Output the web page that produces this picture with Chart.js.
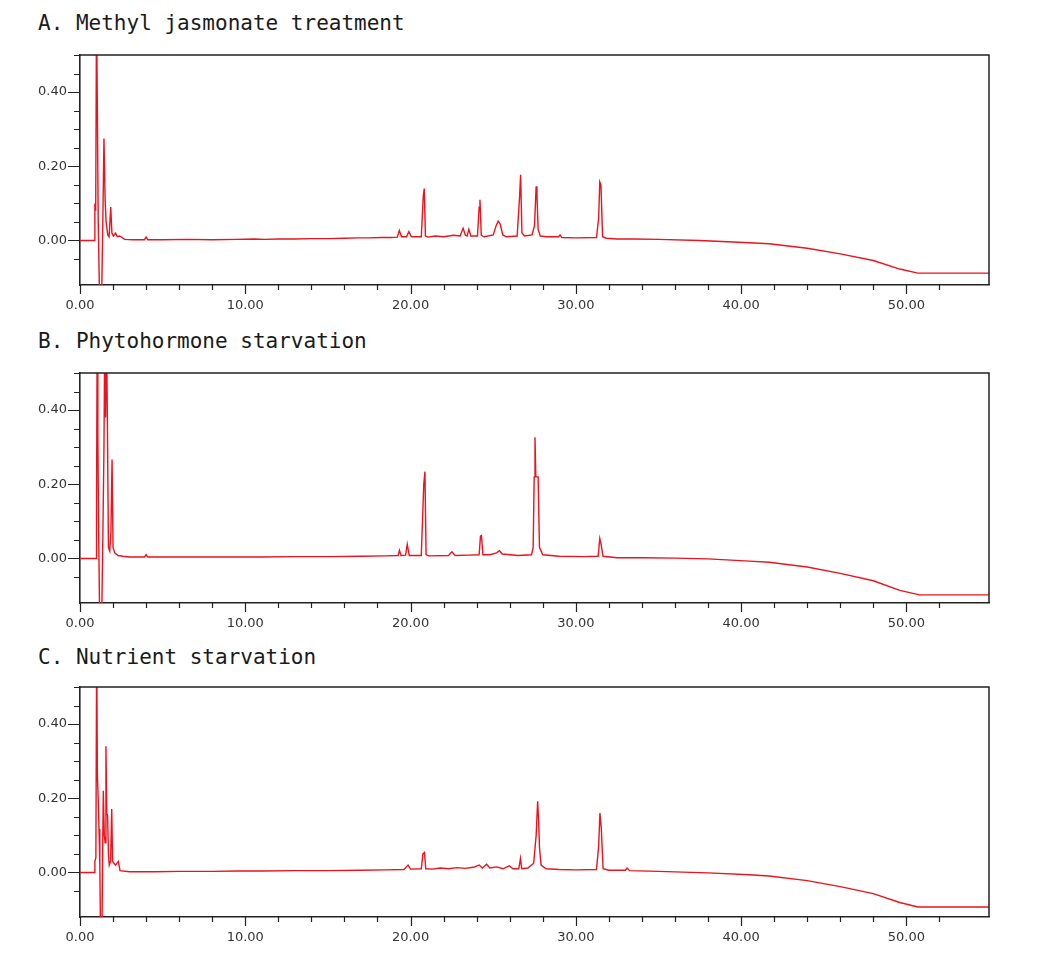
<!DOCTYPE html>
<html><head><meta charset="utf-8">
<script src="https://cdn.jsdelivr.net/npm/chart.js@4/dist/chart.umd.min.js"></script>
<style>
body{margin:0;background:#fff;width:1062px;height:966px;position:relative;overflow:hidden}
.title{position:absolute;left:38px;font-family:"DejaVu Sans Mono",monospace;font-size:21px;line-height:24px;color:#1a1a1a;white-space:pre}
.panel{position:absolute;left:0;width:1062px;height:300px}
</style></head><body>
<div class="title" id="tA" style="top:11px"></div>
<div class="title" id="tB" style="top:329px"></div>
<div class="title" id="tC" style="top:645px"></div>
<div class="panel" style="top:40px"><canvas id="cA" width="1062" height="300"></canvas></div>
<div class="panel" style="top:358px"><canvas id="cB" width="1062" height="300"></canvas></div>
<div class="panel" style="top:672px"><canvas id="cC" width="1062" height="300"></canvas></div>
<script>
const panelTitles = ["A. Methyl jasmonate treatment", "B. Phytohormone starvation", "C. Nutrient starvation"];

// Retention time (min) and absorbance (AU)
const timeA = [0,0.85,0.9,0.95,1.0,1.05,1.1,1.2,1.3,1.38,1.45,1.52,1.58,1.68,1.76,1.86,1.93,2.02,2.15,2.25,2.4,2.7,3.2,3.9,4.0,4.1,5.0,6.5,8.0,9.5,10.5,11.2,12.0,13.0,14.0,15.0,16.0,16.8,17.5,18.2,18.8,19.2,19.32,19.45,19.75,19.9,20.05,20.65,20.77,20.83,20.9,21.05,21.5,22.0,22.6,23.0,23.18,23.32,23.42,23.53,23.65,24.05,24.15,24.2,24.28,24.45,25.0,25.18,25.3,25.42,25.58,25.8,26.45,26.6,26.66,26.74,26.9,27.35,27.5,27.6,27.65,27.72,27.85,28.2,28.95,29.05,29.15,30.0,31.25,31.38,31.45,31.52,31.62,31.85,32.5,33.5,35,37.5,40.5,41.7,44,46,48,49.6,50.7,55];
const signalA = [0,0,0.10,0.08,0.62,0.36,0.06,-0.2,-0.18,0.05,0.275,0.11,0.05,0.015,0.01,0.09,0.02,0.012,0.02,0.01,0.012,0.003,0.002,0.002,0.009,0.002,0.002,0.003,0.002,0.003,0.004,0.003,0.004,0.004,0.005,0.005,0.006,0.007,0.007,0.008,0.008,0.009,0.027,0.01,0.01,0.024,0.01,0.01,0.12,0.14,0.012,0.009,0.012,0.01,0.014,0.012,0.033,0.014,0.012,0.03,0.012,0.012,0.09,0.11,0.014,0.01,0.015,0.04,0.052,0.045,0.015,0.01,0.012,0.12,0.177,0.02,0.012,0.015,0.04,0.146,0.12,0.03,0.012,0.01,0.01,0.015,0.008,0.007,0.008,0.06,0.158,0.15,0.01,0.006,0.004,0.004,0.003,0.0,-0.006,-0.009,-0.021,-0.036,-0.054,-0.077,-0.088,-0.088];

const timeB = [0,0.9,0.97,1.0,1.04,1.08,1.12,1.2,1.3,1.38,1.45,1.5,1.55,1.6,1.65,1.72,1.8,1.87,1.94,2.0,2.1,2.3,2.6,3.0,3.9,4.0,4.1,5.5,7,9,11,13,15,17,18.5,19.25,19.33,19.42,19.7,19.8,19.92,20.65,20.8,20.87,20.94,21.1,22.3,22.5,22.7,23.5,24.15,24.23,24.29,24.38,24.8,25.2,25.38,25.55,26.5,27.32,27.42,27.48,27.53,27.58,27.72,27.8,28.0,29,30.5,31.35,31.45,31.52,31.65,32.5,34,36,38,40.5,41.7,44,46,48,49.6,50.8,55];
const signalB = [0,0,0.0,0.14,0.62,0.34,0.1,-0.2,-0.2,0.05,0.3,0.62,0.38,0.62,0.41,0.03,0.02,0.07,0.267,0.03,0.015,0.008,0.006,0.004,0.004,0.01,0.004,0.004,0.004,0.004,0.004,0.005,0.005,0.006,0.007,0.008,0.022,0.008,0.009,0.038,0.008,0.008,0.2,0.234,0.01,0.007,0.008,0.018,0.008,0.009,0.01,0.06,0.062,0.01,0.01,0.015,0.021,0.012,0.008,0.01,0.03,0.22,0.327,0.22,0.22,0.03,0.01,0.006,0.005,0.006,0.054,0.04,0.006,0.002,0.002,0.001,-0.001,-0.007,-0.01,-0.023,-0.04,-0.06,-0.086,-0.098,-0.098];

const timeC = [0,0.85,0.9,0.96,1.01,1.05,1.1,1.15,1.2,1.25,1.32,1.37,1.41,1.47,1.52,1.57,1.62,1.67,1.72,1.77,1.85,1.92,1.97,2.02,2.15,2.32,2.42,3,4.5,6,8,9.5,11,13,15,17,18.5,19.6,19.85,20.0,20.65,20.75,20.84,20.92,21.3,21.8,22.3,22.8,23.3,23.8,24.15,24.35,24.6,24.8,25.2,25.6,25.97,26.2,26.55,26.65,26.73,27.1,27.45,27.6,27.69,27.75,27.8,27.9,28.2,29,30,31.25,31.38,31.46,31.54,31.65,32,33.0,33.1,33.25,35,38,40.5,41.7,44,46,48,49.6,50.7,55];
const signalC = [0,0,0.03,0.04,0.62,0.266,0.2,0.117,0.02,-0.2,-0.2,0.05,0.22,0.10,0.08,0.34,0.16,0.153,0.05,0.02,0.03,0.171,0.03,0.027,0.02,0.03,0.005,0.002,0.002,0.003,0.003,0.004,0.004,0.005,0.005,0.006,0.007,0.008,0.02,0.009,0.01,0.05,0.054,0.01,0.009,0.012,0.01,0.013,0.011,0.014,0.02,0.012,0.022,0.012,0.015,0.01,0.018,0.01,0.01,0.038,0.01,0.012,0.025,0.1,0.192,0.14,0.068,0.02,0.01,0.008,0.007,0.008,0.07,0.16,0.12,0.01,0.006,0.006,0.012,0.005,0.003,-0.001,-0.006,-0.0095,-0.022,-0.038,-0.057,-0.081,-0.093,-0.093];

const xRange = [0, 55];
const yRange = [-0.12, 0.5];
const xStep = 2, xLabelEvery = 10;
const yStep = 0.05, yLabelEvery = 0.2;

document.getElementById('tA').textContent = panelTitles[0];
document.getElementById('tB').textContent = panelTitles[1];
document.getElementById('tC').textContent = panelTitles[2];

const isMult = (v, s) => Math.abs(v / s - Math.round(v / s)) < 1e-6;

const framePlugin = {
  id: 'frame',
  afterDraw(chart) {
    const ctx = chart.ctx, a = chart.chartArea;
    const xs = chart.scales.x, ys = chart.scales.y;
    ctx.save();
    ctx.strokeStyle = '#222';
    ctx.lineWidth = 1.5;
    ctx.beginPath();
    ctx.moveTo(a.left, a.top); ctx.lineTo(a.right, a.top); ctx.lineTo(a.right, a.bottom);
    ctx.stroke();
    ctx.lineWidth = 1.2;
    ctx.beginPath();
    xs.ticks.forEach(t => {
      if (!isMult(t.value, xStep)) return;
      const px = Math.round(xs.getPixelForValue(t.value)) + 0.5;
      const len = isMult(t.value, xLabelEvery) ? 9 : 5;
      ctx.moveTo(px, a.bottom); ctx.lineTo(px, a.bottom + len);
    });
    ys.ticks.forEach(t => {
      if (!isMult(t.value, yStep)) return;
      const py = Math.round(ys.getPixelForValue(t.value)) + 0.5;
      const len = isMult(t.value, yLabelEvery) ? 12 : 6;
      ctx.moveTo(a.left, py); ctx.lineTo(a.left - len, py);
    });
    ctx.stroke();
    ctx.restore();
  }
};

function makeChart(id, times, signal) {
  const pts = times.map((t, i) => ({x: t, y: signal[i]}));
  return new Chart(document.getElementById(id), {
    type: 'line',
    data: { datasets: [{ data: pts, borderColor: '#e8141e', borderWidth: 1.4, pointRadius: 0, tension: 0, clip: 0, fill: false }] },
    options: {
      responsive: false, animation: false,
      layout: { padding: { left: 0, right: 73, top: 15, bottom: 15 } },
      plugins: { legend: { display: false }, tooltip: { enabled: false } },
      scales: {
        x: {
          type: 'linear', min: xRange[0], max: xRange[1],
          grid: { display: false },
          border: { display: true, color: '#222', width: 1.6 },
          ticks: { stepSize: xStep, autoSkip: false, maxRotation: 0, padding: 5, color: '#333',
            font: { family: 'DejaVu Sans', size: 13 },
            callback: v => isMult(v, xLabelEvery) ? v.toFixed(2) : '' },
          afterFit: s => { s.height = 40; }
        },
        y: {
          type: 'linear', min: yRange[0], max: yRange[1],
          grid: { display: false },
          border: { display: true, color: '#222', width: 1.6 },
          ticks: { stepSize: yStep, autoSkip: false, padding: 5, color: '#333',
            font: { family: 'DejaVu Sans', size: 13 },
            callback: v => (isMult(v, yLabelEvery) && isMult(v, yStep)) ? v.toFixed(2) : '' },
          afterFit: s => { s.width = 80; }
        }
      }
    },
    plugins: [framePlugin]
  });
}

makeChart('cA', timeA, signalA);
makeChart('cB', timeB, signalB);
makeChart('cC', timeC, signalC);
</script>
</body></html>
